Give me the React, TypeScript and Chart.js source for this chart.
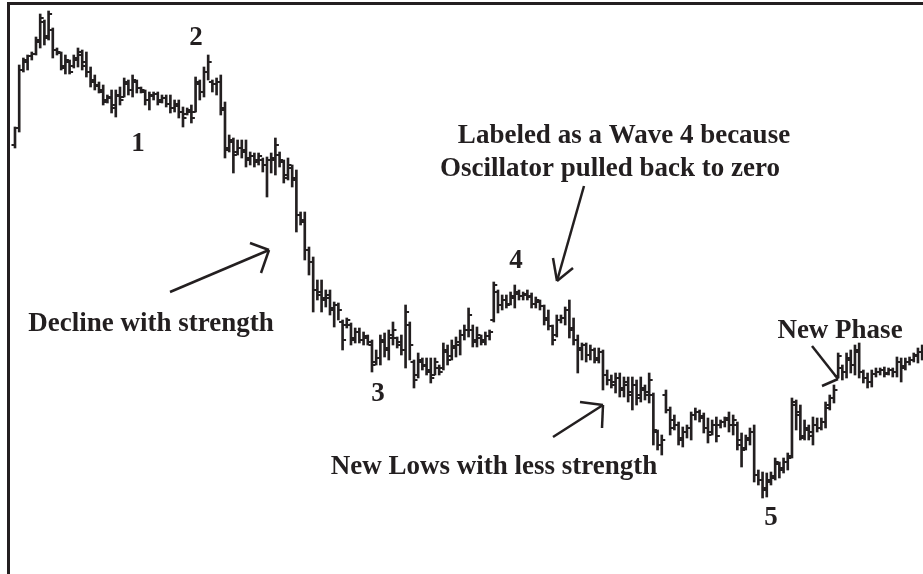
import React, { useEffect, useRef } from "react";
import { Chart, registerables } from "chart.js";

Chart.register(...registerables);

// OHLC price bars (index = trading day)
const highs = [
  473, 535, 542, 545, 548, 563, 586, 580, 589, 572, 552, 548, 545, 540, 545, 552, 550, 548, 533, 525,
  518, 515, 505, 510, 510, 513, 522, 520, 525, 520, 513, 510, 508, 508, 508, 505, 505, 505, 500, 500,
  493, 492, 495, 523, 520, 533, 545, 520, 522, 525, 498, 465, 462, 460, 460, 460, 448, 447, 447, 442,
  443, 447, 462, 448, 440, 442, 435, 430, 388, 388, 353, 343, 320, 320, 310, 310, 298, 297, 280, 282,
  277, 272, 272, 268, 265, 260, 250, 265, 267, 270, 278, 263, 265, 295, 278, 240, 247, 242, 242, 242,
  242, 235, 257, 255, 260, 263, 270, 275, 292, 275, 273, 265, 268, 270, 318, 310, 305, 305, 308, 315,
  310, 308, 310, 307, 303, 300, 295, 290, 275, 285, 285, 293, 300, 282, 265, 257, 257, 255, 252, 252,
  250, 230, 225, 227, 227, 223, 223, 223, 220, 223, 215, 227, 207, 170, 165, 210, 193, 185, 178, 173,
  175, 188, 192, 190, 187, 182, 180, 183, 180, 183, 188, 185, 178, 167, 165, 172, 175, 130, 128, 127,
  128, 142, 138, 142, 147, 202, 200, 195, 180, 175, 183, 182, 182, 198, 205, 215, 247, 235, 247, 250,
  255, 257, 230, 227, 230, 232, 232, 233, 232, 232, 243, 242, 242, 243, 247, 252, 255,
];
const lows = [
  452, 468, 528, 530, 540, 545, 552, 555, 560, 542, 545, 530, 526, 526, 532, 533, 530, 523, 513, 510,
  507, 495, 497, 487, 483, 495, 503, 505, 503, 507, 507, 495, 490, 500, 495, 497, 493, 487, 488, 482,
  473, 485, 477, 488, 500, 503, 520, 508, 505, 485, 442, 448, 427, 445, 442, 433, 435, 433, 435, 428,
  403, 427, 425, 433, 417, 420, 413, 368, 375, 340, 325, 288, 300, 288, 293, 285, 273, 280, 250, 272,
  255, 257, 257, 255, 255, 228, 235, 235, 243, 240, 255, 252, 245, 232, 240, 212, 222, 230, 225, 217,
  225, 225, 230, 235, 240, 243, 245, 260, 263, 253, 253, 255, 255, 260, 278, 287, 290, 292, 295, 292,
  300, 300, 300, 292, 292, 290, 275, 270, 255, 263, 277, 275, 262, 255, 227, 240, 238, 240, 237, 237,
  210, 215, 212, 207, 203, 203, 198, 190, 195, 198, 200, 197, 155, 150, 145, 187, 165, 170, 155, 153,
  162, 160, 180, 178, 167, 157, 165, 158, 172, 173, 168, 165, 150, 133, 150, 155, 118, 115, 102, 103,
  115, 120, 122, 127, 130, 142, 170, 160, 160, 160, 155, 168, 170, 172, 190, 197, 222, 220, 222, 227,
  225, 222, 217, 212, 213, 223, 225, 223, 225, 223, 223, 218, 230, 235, 238, 237, 240,
];
const opens = [
  455, 472, 530, 538, 544, 546, 558, 578, 564, 570, 550, 547, 534, 538, 534, 540, 545, 538, 528, 520,
  514, 508, 500, 502, 495, 504, 503, 516, 510, 518, 512, 508, 500, 504, 506, 500, 502, 496, 492, 494,
  488, 486, 488, 488, 516, 508, 528, 518, 516, 518, 490, 452, 458, 448, 452, 450, 442, 444, 440, 440,
  435, 440, 440, 445, 438, 425, 432, 422, 385, 380, 350, 338, 310, 308, 302, 302, 290, 295, 278, 275,
  275, 262, 268, 260, 262, 255, 238, 242, 258, 252, 262, 262, 258, 250, 275, 238, 225, 238, 235, 230,
  225, 232, 232, 248, 244, 252, 255, 265, 270, 270, 260, 262, 260, 264, 280, 308, 295, 300, 296, 302,
  306, 304, 305, 304, 296, 298, 294, 282, 274, 265, 280, 282, 290, 272, 260, 252, 255, 245, 250, 242,
  248, 225, 220, 218, 222, 212, 215, 208, 215, 205, 210, 208, 205, 168, 155, 205, 190, 180, 175, 162,
  168, 172, 185, 188, 184, 172, 168, 175, 175, 178, 182, 175, 175, 160, 152, 162, 168, 125, 120, 112,
  118, 124, 136, 132, 138, 144, 195, 188, 164, 170, 168, 175, 172, 178, 195, 202, 224, 232, 228, 240,
  235, 248, 228, 222, 218, 226, 228, 230, 227, 230, 228, 238, 234, 238, 240, 244, 248,
];
const closes = [
  472, 530, 540, 544, 546, 560, 582, 562, 586, 550, 548, 532, 540, 528, 542, 548, 534, 528, 518, 515,
  510, 498, 503, 492, 505, 500, 518, 510, 520, 512, 510, 500, 505, 506, 498, 502, 496, 492, 496, 488,
  482, 490, 482, 518, 508, 528, 538, 516, 518, 492, 450, 460, 445, 452, 448, 440, 444, 438, 444, 435,
  440, 442, 455, 440, 422, 435, 420, 385, 378, 350, 338, 310, 305, 300, 305, 292, 295, 290, 260, 280,
  260, 268, 260, 264, 258, 235, 242, 260, 250, 265, 270, 255, 250, 288, 255, 220, 240, 234, 228, 222,
  238, 228, 250, 240, 254, 258, 265, 270, 285, 258, 265, 258, 264, 268, 315, 295, 300, 295, 304, 308,
  304, 306, 303, 296, 300, 294, 280, 274, 260, 280, 282, 290, 270, 260, 250, 255, 245, 250, 240, 248,
  225, 220, 215, 222, 210, 218, 205, 215, 202, 212, 205, 220, 170, 155, 160, 190, 172, 175, 160, 168,
  172, 185, 188, 182, 172, 165, 175, 164, 178, 180, 175, 180, 155, 150, 160, 168, 125, 120, 110, 120,
  122, 138, 130, 138, 142, 198, 185, 162, 172, 164, 175, 172, 178, 192, 202, 210, 244, 228, 242, 235,
  250, 228, 222, 218, 226, 228, 230, 226, 230, 228, 238, 232, 238, 240, 245, 248, 250,
];

// Wave labels and commentary
const waveLabels = ["1", "2", "3", "4", "5"];
const notes = [
  "Labeled as a Wave 4 because",
  "Oscillator pulled back to zero",
  "Decline with strength",
  "New Lows with less strength",
  "New Phase",
];

const INK = "#231f20";

export default function App() {
  const ref = useRef<HTMLCanvasElement | null>(null);

  useEffect(() => {
    document.body.style.margin = "0";
    const canvas = ref.current;
    if (!canvas) return;

    const ticksPlugin = {
      id: "ohlcTicks",
      afterDatasetsDraw(chart: any) {
        const { ctx } = chart;
        const xs = chart.scales.x;
        const ys = chart.scales.y;
        ctx.save();
        ctx.strokeStyle = INK;
        ctx.lineWidth = 2;
        for (let i = 0; i < opens.length; i++) {
          const x = xs.getPixelForValue(i);
          const yo = ys.getPixelForValue(opens[i]);
          const yc = ys.getPixelForValue(closes[i]);
          ctx.beginPath();
          ctx.moveTo(x - 3.5, yo);
          ctx.lineTo(x, yo);
          ctx.moveTo(x, yc);
          ctx.lineTo(x + 3.5, yc);
          ctx.stroke();
        }
        ctx.restore();
      },
    };

    const annotPlugin = {
      id: "annotations",
      afterDraw(chart: any) {
        const { ctx } = chart;
        ctx.save();
        // frame
        ctx.fillStyle = INK;
        ctx.fillRect(7, 2, 3, 572);
        ctx.fillRect(7, 2, 916, 3);

        // texts
        ctx.fillStyle = INK;
        ctx.textAlign = "center";
        ctx.textBaseline = "alphabetic";
        ctx.font = "bold 27px 'Liberation Serif', 'Times New Roman', serif";
        const labelPos = [
          [138, 151],
          [196, 45],
          [378, 401],
          [516, 268],
          [771, 525],
        ];
        waveLabels.forEach((t, i) => ctx.fillText(t, labelPos[i][0], labelPos[i][1]));
        const notePos = [
          [624, 143],
          [610, 176],
          [151, 331],
          [494, 474],
          [840, 338],
        ];
        notes.forEach((t, i) => ctx.fillText(t, notePos[i][0], notePos[i][1]));

        // arrows
        ctx.strokeStyle = INK;
        ctx.lineWidth = 2.5;
        ctx.lineCap = "butt";
        const seg = (a: number, b: number, c: number, d: number) => {
          ctx.beginPath();
          ctx.moveTo(a, b);
          ctx.lineTo(c, d);
          ctx.stroke();
        };
        // Decline with strength
        seg(170, 292, 269, 250);
        seg(269, 250, 250, 243);
        seg(269, 250, 261, 273);
        // Wave 4 note
        seg(584, 186, 557, 281);
        seg(557, 281, 553, 258);
        seg(557, 281, 573, 268);
        // New lows
        seg(553, 437, 603, 405);
        seg(603, 405, 580, 402);
        seg(603, 405, 602, 428);
        // New phase
        seg(812, 346, 838, 379);
        seg(822, 386, 838, 379);
        ctx.restore();
      },
    };

    const chart = new Chart(canvas, {
      type: "bar",
      data: {
        datasets: [
          {
            data: highs.map((h, i) => ({ x: i, y: [lows[i], h] })) as any,
            backgroundColor: INK,
            borderWidth: 0,
            barThickness: 2,
          },
        ],
      },
      options: {
        responsive: false,
        animation: false,
        layout: { padding: 0 },
        plugins: { legend: { display: false }, tooltip: { enabled: false } },
        scales: {
          x: { type: "linear", min: -3.57, max: 216.2, offset: false, display: false },
          y: { min: 26, max: 600, display: false },
        },
      },
      plugins: [ticksPlugin, annotPlugin],
    });
    return () => chart.destroy();
  }, []);

  return (
    <div style={{ width: 923, height: 574, background: "#fff" }}>
      <canvas ref={ref} width={923} height={574} style={{ display: "block" }} />
    </div>
  );
}
